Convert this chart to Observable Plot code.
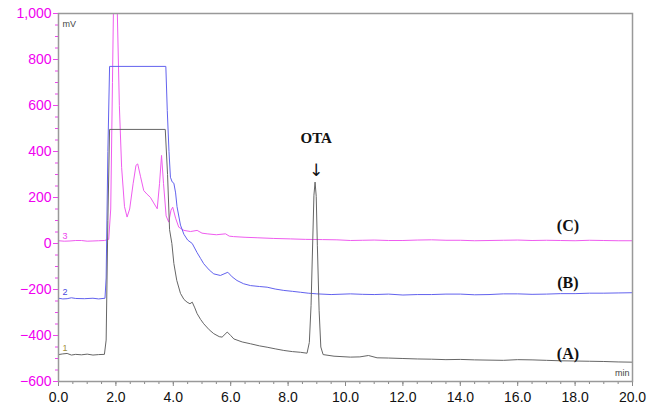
<!DOCTYPE html>
<html>
<head>
<meta charset="utf-8">
<script src="https://cdn.jsdelivr.net/npm/d3@7"></script>
<script src="https://cdn.jsdelivr.net/npm/@observablehq/plot@0.6"></script>
<style>
  html, body { margin: 0; padding: 0; background: #fff; }
</style>
</head>
<body>
<div id="chart"></div>
<script>
// Chromatogram A (grey): [time (min), signal (mV)]
const seriesA = [
  [0.0,-483],[0.15,-480],[0.3,-478],[0.45,-485],[0.6,-482],[0.8,-484],[1.0,-481],[1.2,-485],[1.4,-483],[1.6,-482],
  [1.66,-420],[1.72,100],[1.78,496],[3.72,496],[3.8,300],[3.87,60],[3.95,0],[4.02,-87],[4.12,-160],[4.25,-217],
  [4.37,-243],[4.48,-255],[4.58,-262],[4.66,-255],[4.75,-280],[4.83,-305],[4.95,-330],[5.06,-349],[5.25,-375],
  [5.41,-392],[5.6,-405],[5.7,-407],[5.88,-385],[6.0,-400],[6.11,-415],[6.4,-428],[6.69,-436],[7.0,-445],
  [7.27,-451],[7.55,-458],[7.85,-465],[8.15,-470],[8.43,-473],[8.66,-477],
  [8.74,-430],[8.8,-270],[8.86,20],[8.9,210],[8.94,267],[8.98,205],[9.02,-10],[9.08,-290],[9.14,-450],[9.22,-483],
  [9.6,-490],[10.17,-494],[10.5,-493],[10.8,-487],[11.1,-497],[11.5,-498],[12.0,-500],[12.5,-502],[13.0,-503],
  [13.5,-505],[14.0,-504],[14.5,-506],[15.0,-507],[15.5,-508],[16.0,-505],[16.5,-506],[17.0,-508],[17.5,-510],
  [18.0,-511],[18.5,-512],[19.0,-513],[19.5,-515],[20.0,-516]
];
// Chromatogram B (blue)
const seriesB = [
  [0.0,-238],[0.15,-241],[0.3,-240],[0.45,-236],[0.6,-239],[0.9,-240],[1.2,-238],[1.4,-241],[1.62,-238],
  [1.66,-150],[1.72,400],[1.78,770],[3.74,770],[3.79,578],[3.85,400],[3.9,288],[3.96,268],[4.02,262],[4.08,220],
  [4.13,160],[4.25,80],[4.37,40],[4.5,15],[4.66,0],[4.83,-40],[4.95,-65],[5.06,-88],[5.25,-115],[5.41,-132],
  [5.64,-139],[5.9,-125],[6.05,-145],[6.22,-161],[6.45,-175],[6.69,-183],[7.0,-187],[7.27,-190],[7.55,-198],
  [7.85,-204],[8.15,-208],[8.43,-212],[8.7,-216],[9.0,-219],[9.5,-222],[10.17,-219],[10.6,-221],[11.0,-222],
  [11.5,-220],[12.0,-224],[12.5,-222],[13.0,-222],[13.5,-220],[14.0,-220],[14.5,-223],[15.0,-222],[15.5,-219],
  [16.0,-219],[16.5,-221],[17.0,-220],[17.5,-218],[18.0,-218],[18.5,-216],[19.0,-216],[19.5,-215],[20.0,-214]
];
// Chromatogram C (magenta)
const seriesC = [
  [0.0,12],[0.2,10],[0.4,11],[0.6,13],[0.8,13],[1.0,10],[1.2,11],[1.4,12],[1.6,13],[1.75,18],
  [1.82,150],[1.88,700],[1.94,1250],[2.0,1300],[2.05,1000],[2.12,600],[2.2,330],[2.3,160],[2.39,115],[2.48,150],
  [2.6,260],[2.7,340],[2.76,346],[2.86,290],[2.97,230],[3.08,215],[3.2,201],[3.3,180],[3.44,151],[3.52,260],
  [3.59,383],[3.66,260],[3.75,120],[3.84,93],[3.92,145],[3.98,158],[4.08,110],[4.19,71],[4.37,57],[4.6,52],
  [4.83,57],[5.0,45],[5.18,42],[5.5,38],[5.82,42],[5.95,32],[6.1,30],[6.5,27],[6.92,25],[7.5,22],[8.08,20],
  [8.6,18],[9.2,17],[9.7,16],[10.17,13],[10.6,14],[11.0,15],[11.5,13],[12.0,13],[12.5,15],[13.0,16],[13.5,14],
  [14.0,14],[14.5,12],[15.0,13],[15.5,14],[16.0,15],[16.5,13],[17.0,14],[17.5,13],[18.0,12],[18.5,14],[19.0,13],
  [19.5,12],[20.0,12]
];

// Axis ticks
const xTicks = d3.range(0, 20.001, 2);
const xMinorTicks = d3.range(0, 20.001, 0.5);
const yTicks = [-600, -400, -200, 0, 200, 400, 600, 800, 1000];
const yMinorTicks = d3.range(-600, 1000.001, 50);

// Annotations
const curveLabels = ["(A)", "(B)", "(C)"];
const curveLabelX = [17.75, 17.75, 17.75];
const curveLabelY = [-478, -170, 78];
const channelLabels = ["1", "2", "3"];
const channelLabelY = [-455, -210, 30];
const peakName = "OTA";
const peakTime = 8.98;
const peakTextY = 460;
const peakArrowY = 318;

const colA = "#666666", colB = "#6262ee", colC = "#ef5cef";
const channelColors = ["#a09040", "#4a4ae0", "#ee44ee"];

const toRows = s => s.map(([t, v]) => ({t, v}));
const fmtY = d3.format(",");

const chart = Plot.plot({
  width: 660,
  height: 410,
  marginLeft: 58,
  marginRight: 28,
  marginTop: 13,
  marginBottom: 29,
  style: {fontFamily: "'Liberation Sans', Arial, sans-serif", fontSize: "14px", background: "#fff"},
  x: {domain: [0, 20]},
  y: {domain: [-600, 1000]},
  marks: [
    Plot.axisY({ticks: yMinorTicks, tickSize: 3, text: null, label: null, stroke: "#ee44ee"}),
    Plot.axisY({ticks: yTicks, tickSize: 5, tickPadding: 2, tickFormat: fmtY, stroke: "#ee44ee", fill: "#f000f0", fontSize: 14, label: null}),
    Plot.axisX({ticks: xMinorTicks, tickSize: 3, text: null, label: null, stroke: "#888"}),
    Plot.axisX({ticks: xTicks, tickSize: 5, tickPadding: 6, tickFormat: d => d.toFixed(1), stroke: "#888", fill: "#111", fontSize: 14, label: null}),
    Plot.lineY(toRows(seriesC), {x: "t", y: "v", stroke: colC, strokeWidth: 1, clip: true}),
    Plot.lineY(toRows(seriesB), {x: "t", y: "v", stroke: colB, strokeWidth: 1, clip: true}),
    Plot.lineY(toRows(seriesA), {x: "t", y: "v", stroke: colA, strokeWidth: 1, clip: true}),
    Plot.frame({stroke: "#999", strokeWidth: 1.5}),
    Plot.text(["mV"], {frameAnchor: "top-left", dx: 4, dy: 7, fontSize: 9, fill: "#444"}),
    Plot.text(["min"], {frameAnchor: "bottom-right", dx: -3, dy: -6, fontSize: 9, fill: "#444"}),
    Plot.text(channelLabels, {x: () => 0, y: (d, i) => channelLabelY[i], text: d => d, dx: 4, textAnchor: "start", fontSize: 9, fill: (d, i) => channelColors[i]}),
    Plot.text(curveLabels, {x: (d, i) => curveLabelX[i], y: (d, i) => curveLabelY[i], text: d => d, fontFamily: "'Liberation Serif', 'Times New Roman', serif", fontWeight: "bold", fontSize: 16, fill: "#111"}),
    Plot.text([peakName], {x: () => peakTime, y: () => peakTextY, text: d => d, fontFamily: "'Liberation Serif', 'Times New Roman', serif", fontWeight: "bold", fontSize: 15, fill: "#111"}),
    Plot.text(["↓"], {x: () => peakTime, y: () => peakArrowY, text: d => d, fontFamily: "'DejaVu Sans', sans-serif", fontSize: 17, fill: "#111"})
  ]
});
document.getElementById("chart").append(chart);
</script>
</body>
</html>
